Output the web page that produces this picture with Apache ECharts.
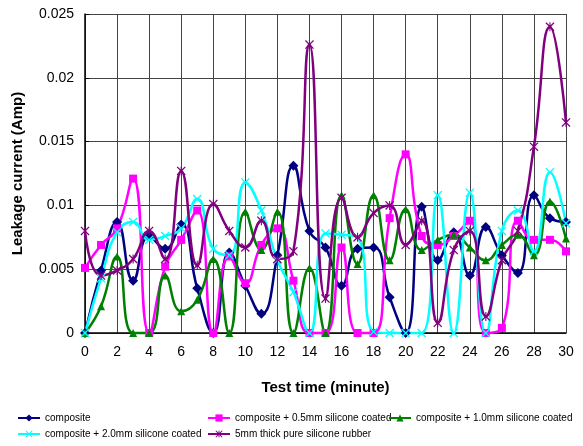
<!DOCTYPE html>
<html>
<head>
<meta charset="utf-8">
<script src="https://cdn.jsdelivr.net/npm/echarts@6/dist/echarts.min.js"></script>
<style>
    html, body { margin: 0; padding: 0; background: #fff; }
    #chart { width: 583px; height: 446px; }
</style>
</head>
<body>
<div id="chart"></div>
<script>
var times = [0, 1, 2, 3, 4, 5, 6, 7, 8, 9, 10, 11, 12, 13, 14, 15, 16, 17, 18, 19, 20, 21, 22, 23, 24, 25, 26, 27, 28, 29, 30];
var composite = [0, 0.0049, 0.0087, 0.0041, 0.0076, 0.0066, 0.0085, 0.0035, 0, 0.0063, 0.0037, 0.0015, 0.0061, 0.0131, 0.0080, 0.0067, 0.0037, 0.0066, 0.0067, 0.0028, 0, 0.0099, 0.0057, 0.0079, 0.0045, 0.0083, 0.0061, 0.0047, 0.0108, 0.0090, 0.0087];
var coat05 = [0.0051, 0.0069, 0.0082, 0.0121, 0, 0.0052, 0.0073, 0.0096, 0, 0.0060, 0.0039, 0.0069, 0.0082, 0.0041, 0, 0, 0.0067, 0, 0, 0.0090, 0.0140, 0.0076, 0.0069, 0.0076, 0.0088, 0, 0.0004, 0.0088, 0.0073, 0.0073, 0.0064];
var coat10 = [0, 0.0021, 0.0060, 0, 0, 0.0045, 0.0017, 0.0026, 0.0058, 0, 0.0095, 0.0065, 0.0095, 0, 0.0051, 0, 0.0108, 0.0054, 0.0108, 0.0057, 0.0097, 0.0065, 0.0073, 0.0077, 0.0067, 0.0057, 0.0069, 0.0077, 0.0061, 0.0103, 0.0074];
var coat20 = [0, 0.0043, 0.0079, 0.0087, 0.0073, 0.0076, 0.0082, 0.0105, 0.0066, 0.0061, 0.0118, 0.0096, 0.0057, 0.0032, 0, 0.0078, 0.0077, 0.0075, 0.0001, 0, 0, 0, 0.0108, 0, 0.0110, 0, 0.0080, 0.0096, 0.0064, 0.0126, 0.0086];
var rubber = [0.0080, 0.0045, 0.0049, 0.0058, 0.0080, 0.0058, 0.0127, 0.0053, 0.0101, 0.0080, 0.0067, 0.0088, 0.0058, 0.0064, 0.0226, 0.0027, 0.0106, 0.0075, 0.0094, 0.0100, 0.0069, 0.0088, 0.0008, 0.0065, 0.0080, 0.0013, 0.0057, 0.0080, 0.0146, 0.0240, 0.0165];
var names = ['composite', 'composite + 0.5mm silicone coated', 'composite + 1.0mm silicone coated',
    'composite + 2.0mm silicone coated', '5mm thick pure silicone rubber'];

// X shaped markers
var crossPath = 'path://M0,1L1,0L5,4L9,0L10,1L6,5L10,9L9,10L5,6L1,10L0,9L4,5Z';
var starPath = 'path://M0,1L1,0L5,4L9,0L10,1L6,5L10,9L9,10L5,6L1,10L0,9L4,5ZM4.4,0L5.6,0L5.6,10L4.4,10Z';

var pairs = function (vals) {
    return times.map(function (t, i) { return [t, vals[i]]; });
};

var mkSeries = function (name, vals, color, symbol, size) {
    return {
        name: name,
        type: 'line',
        smooth: 0.5,
        clip: false,
        data: pairs(vals),
        symbol: symbol,
        symbolSize: size,
        lineStyle: { color: color, width: 2.5 },
        itemStyle: { color: color },
        z: 3
    };
};

var font = 'Liberation Sans, Arial, sans-serif';
// one legend box per entry so the columns line up like the original
var mkLegend = function (name, left, top) {
    return {
        left: left,
        top: top,
        data: [name],
        itemWidth: 22,
        itemHeight: 9,
        padding: 0,
        textStyle: { fontFamily: font, fontSize: 10, color: '#000' }
    };
};

var myChart = echarts.init(document.getElementById('chart'));
var option = {
    animation: false,
    grid: { left: 85, right: 17, top: 14, bottom: 113 },
    legend: [
        mkLegend(names[0], 17, 413),
        mkLegend(names[1], 207, 413),
        mkLegend(names[2], 388, 413),
        mkLegend(names[3], 17, 429),
        mkLegend(names[4], 207, 429)
    ],
    xAxis: {
        type: 'value',
        min: 0,
        max: 30,
        interval: 2,
        name: 'Test time (minute)',
        nameLocation: 'middle',
        nameGap: 47,
        nameTextStyle: { fontFamily: font, fontSize: 15, fontWeight: 'bold', color: '#000' },
        axisLine: { lineStyle: { color: '#000', width: 1.5 } },
        axisTick: { show: false },
        axisLabel: { margin: 12, fontFamily: font, fontSize: 14, color: '#000' },
        splitLine: { show: true, lineStyle: { color: '#444', width: 1 } }
    },
    yAxis: {
        type: 'value',
        min: 0,
        max: 0.025,
        interval: 0.005,
        name: 'Leakage current (Amp)',
        nameLocation: 'middle',
        nameGap: 60,
        nameTextStyle: { fontFamily: font, fontSize: 15, fontWeight: 'bold', color: '#000' },
        axisLine: { show: true, lineStyle: { color: '#000', width: 1.5 } },
        axisTick: { show: true, inside: true, length: 4, lineStyle: { color: '#000' } },
        axisLabel: { margin: 11, fontFamily: font, fontSize: 14, color: '#000' },
        splitLine: { show: true, lineStyle: { color: '#444', width: 1 } }
    },
    series: [
        mkSeries(names[0], composite, '#000080', 'diamond', 10),
        mkSeries(names[1], coat05, '#FF00FF', 'rect', 8),
        mkSeries(names[2], coat10, '#008000', 'triangle', 8),
        mkSeries(names[3], coat20, '#00FFFF', crossPath, 9),
        mkSeries(names[4], rubber, '#800080', starPath, 9)
    ]
};
myChart.setOption(option);
</script>
</body>
</html>
